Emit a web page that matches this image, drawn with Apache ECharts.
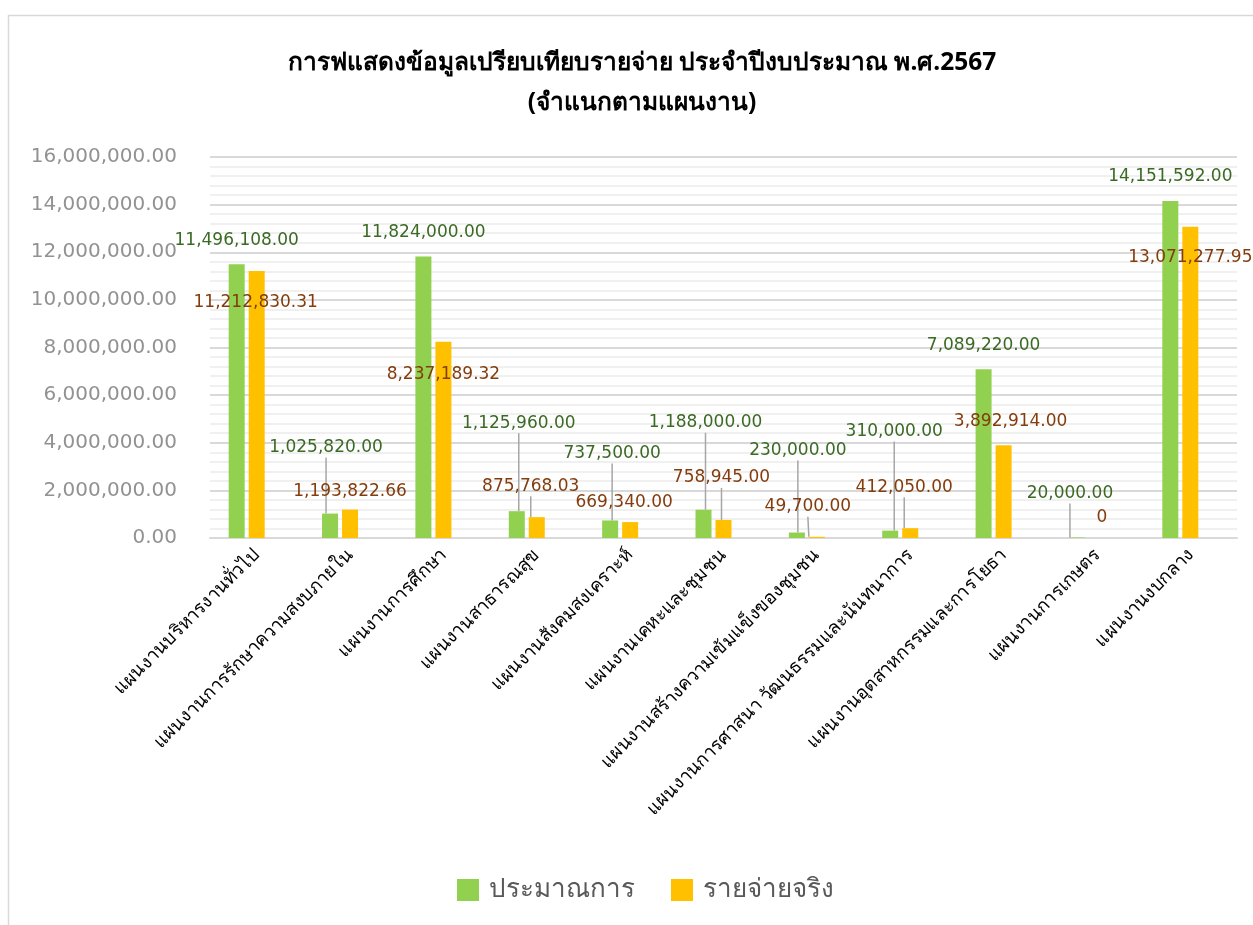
<!DOCTYPE html>
<html>
<head>
<meta charset="utf-8">
<script src="https://cdn.jsdelivr.net/npm/echarts@6/dist/echarts.min.js"></script>
<style>
  html, body { margin: 0; padding: 0; background: #fff; }
  #chart { width: 1253px; height: 925px; }
</style>
</head>
<body>
<div id="chart"></div>
<script>
// ข้อมูลแผนงาน
const categories = [
  "แผนงานบริหารงานทั่วไป",
  "แผนงานการรักษาความสงบภายใน",
  "แผนงานการศึกษา",
  "แผนงานสาธารณสุข",
  "แผนงานสังคมสงเคราะห์",
  "แผนงานเคหะและชุมชน",
  "แผนงานสร้างความเข้มแข็งของชุมชน",
  "แผนงานการศาสนา วัฒนธรรมและนันทนาการ",
  "แผนงานอุตสาหกรรมและการโยธา",
  "แผนงานการเกษตร",
  "แผนงานงบกลาง",
];
const budget = [11496108.0, 1025820.0, 11824000.0, 1125960.0, 737500.0, 1188000.0, 230000.0, 310000.0, 7089220.0, 20000.0, 14151592.0];
const actual = [11212830.31, 1193822.66, 8237189.32, 875768.03, 669340.0, 758945.0, 49700.0, 412050.0, 3892914.0, 0, 13071277.95];
const seriesNames = ["ประมาณการ", "รายจ่ายจริง"];

// ตำแหน่งป้ายที่ถูกเลื่อน (dx, dy) และเส้นนำ
const budgetLabelShift = [[0, 0], [-4, -42], [0, 0], [2, -64], [2, -43], [2, -63], [1, -58], [4, -75], [0, 0], [-7, -20], [0, 0]];
const actualLabelShift = [[-1, 56], [0, 6], [0, 57], [-6, -7], [-6, 5], [-2, -18], [-9, -6], [-6, -17], [7, 0], [5, 4], [0, 55]];
const budgetLeader = [false, true, false, true, true, true, true, true, false, true, false];
const actualLeader = [false, false, false, true, false, true, true, true, false, false, false];

const fmt = (v, d) => v.toLocaleString("en-US", { minimumFractionDigits: d, maximumFractionDigits: d });

const chart = echarts.init(document.getElementById("chart"));

const labelStyle = (color) => ({
  show: true,
  position: "top",
  distance: 14,
  fontFamily: "DejaVu Sans",
  fontSize: 17,
  lineHeight: 20,
  color: color,
  formatter: (p) => (p.value === 0 ? "0" : fmt(p.value, 2)),
});

const leaderStyle = { show: true, lineStyle: { color: "#a6a6a6", width: 1.5 } };

const option = {
  animation: false,
  backgroundColor: "#fff",
  title: {
    text: "การฟแสดงข้อมูลเปรียบเทียบรายจ่าย ประจำปีงบประมาณ พ.ศ.2567\n(จำแนกตามแผนงาน)",
    left: 637,
    top: 38,
    textAlign: "center",
    textStyle: {
      fontFamily: "Noto Sans, sans-serif",
      fontSize: 24.5,
      fontWeight: "bold",
      color: "#000",
      lineHeight: 40,
    },
  },
  legend: {
    data: seriesNames,
    bottom: 17,
    left: 452,
    itemWidth: 22,
    itemHeight: 22,
    itemGap: 36,
    icon: "rect",
    textStyle: { fontFamily: "Noto Sans, sans-serif", fontSize: 26, color: "#595959", padding: [0, 0, 0, 5] },
  },
  grid: { left: 210, right: 16, top: 157, bottom: 387, containLabel: false },
  xAxis: {
    type: "category",
    data: categories,
    axisLine: { lineStyle: { color: "#d9d9d9", width: 2 } },
    axisTick: { show: false },
    axisLabel: {
      interval: 0,
      rotate: 45,
      margin: 14,
      fontFamily: "Noto Sans, sans-serif",
      fontSize: 18.5,
      color: "#000",
    },
  },
  yAxis: {
    type: "value",
    min: 0,
    max: 16000000,
    interval: 2000000,
    axisLine: { show: false },
    axisTick: { show: false },
    axisLabel: {
      margin: 33,
      fontFamily: "DejaVu Sans",
      fontSize: 20,
      color: "#929292",
      formatter: (v) => fmt(v, 2),
    },
    splitLine: { lineStyle: { color: "#d9d9d9", width: 2 } },
    minorTick: { show: false, splitNumber: 5 },
    minorSplitLine: { show: true, lineStyle: { color: "#f0f0f0", width: 2 } },
  },
  graphic: [
    {
      type: "rect",
      shape: { x: 8.5, y: 15.5, width: 1400, height: 1000 },
      style: { fill: "none", stroke: "#d9d9d9", lineWidth: 1.5 },
      silent: true,
    },
  ],
  series: [
    {
      name: seriesNames[0],
      type: "bar",
      barWidth: 16,
      barGap: "25%",
      itemStyle: { color: "#92d050" },
      label: labelStyle("#3b6a24"),
      labelLine: leaderStyle,
      labelLayout: (p) => ({ dx: budgetLabelShift[p.dataIndex][0], dy: budgetLabelShift[p.dataIndex][1] }),
      data: budget.map((v, i) => ({ value: v, labelLine: { show: budgetLeader[i] } })),
    },
    {
      name: seriesNames[1],
      type: "bar",
      barWidth: 16,
      barGap: "25%",
      itemStyle: { color: "#ffc000" },
      label: labelStyle("#843c0c"),
      labelLine: leaderStyle,
      labelLayout: (p) => ({ dx: actualLabelShift[p.dataIndex][0], dy: actualLabelShift[p.dataIndex][1] }),
      data: actual.map((v, i) => ({ value: v, labelLine: { show: actualLeader[i] } })),
    },
    {
      // ช่องว่างของชุดข้อมูลที่สาม (ว่าง) ตามกราฟต้นฉบับ
      name: "spacer",
      type: "bar",
      barWidth: 16,
      barGap: "25%",
      data: [],
    },
  ],
};

chart.setOption(option);
</script>
</body>
</html>
